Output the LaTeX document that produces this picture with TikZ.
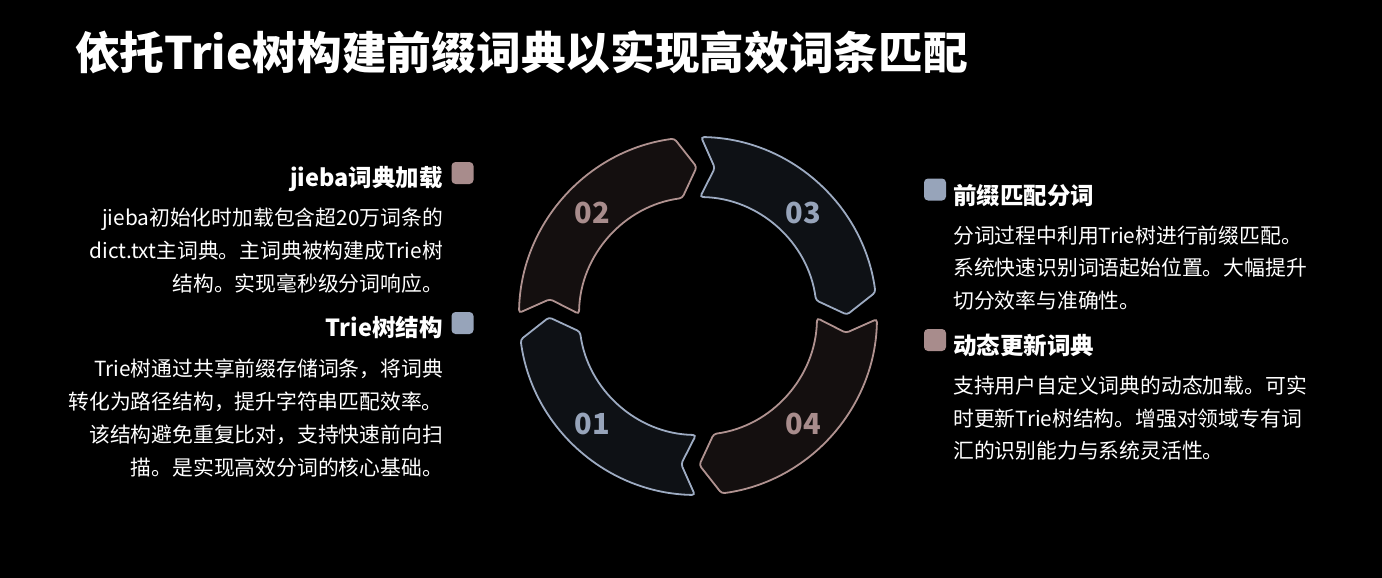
\documentclass[tikz,border=0pt]{standalone}
\usepackage{fontspec}
\setmainfont{Noto Sans CJK SC}
\definecolor{pinkS}{HTML}{B09290}
\definecolor{pinkF}{HTML}{140F0F}
\definecolor{blueS}{HTML}{9DABC2}
\definecolor{blueF}{HTML}{0E1115}
\definecolor{pinkSq}{HTML}{A88C8C}
\definecolor{blueSq}{HTML}{97A4BA}
\newcommand\segshape[3]{%
  \draw[segline, draw=#2, fill=#3]
    ({#1+89}:179) arc[start angle={#1+89}, end angle={#1+7.6}, radius=179]
    -- ({#1+0.5}:149)
    -- ({#1+7.6}:119) arc[start angle={#1+7.6}, end angle={#1+89}, radius=119]
    -- ({#1+83.5}:149) -- cycle;}
\begin{document}
\begin{tikzpicture}[x=1pt,y=-1pt,
  body/.style={text=white, inner sep=0pt, font=\fontsize{20.8}{25}\selectfont},
  headtxt/.style={text=white, inner sep=0pt, font=\fontsize{23.5}{28}\selectfont\bfseries},
  segline/.style={line width=1.8pt, rounded corners=3pt},
  num/.style={inner sep=0pt, font=\fontsize{29}{34}\selectfont\bfseries},
  sq/.style={minimum size=22pt, inner sep=0pt, rounded corners=4pt}]
\fill[black] (0,0) rectangle (1382,578);
\useasboundingbox (0,0) rectangle (1382,578);
% title
\node[anchor=base west, text=white, inner sep=0pt, font=\fontsize{44.7}{52}\selectfont\bfseries] (title) at (75,69.5) {依托Trie树构建前缀词典以实现高效词条匹配};
% ring
\begin{scope}[shift={(698,316)}, yscale=-1]
\segshape{180}{blueS}{blueF}
\segshape{90}{pinkS}{pinkF}
\segshape{0}{blueS}{blueF}
\segshape{270}{pinkS}{pinkF}
\end{scope}
\node[num, text=blueSq] (n01) at (592,424) {01};
\node[num, text=pinkSq] (n02) at (592,213) {02};
\node[num, text=blueSq] (n03) at (803,213) {03};
\node[num, text=pinkSq] (n04) at (803,424) {04};
% left legend
\node[sq, fill=pinkSq] (sq1) at (462.5,173) {};
\node[headtxt, anchor=base east] (h1) at (443,186) {jieba词典加载};
\node[body, anchor=base east] (b11) at (443,225.5) {jieba初始化时加载包含超20万词条的};
\node[body, anchor=base east] (b12) at (443,258.5) {dict.txt主词典。主词典被构建成Trie树};
\node[body, anchor=base east] (b13) at (443,291.5) {结构。实现毫秒级分词响应。};
\node[sq, fill=blueSq] (sq2) at (462.5,323) {};
\node[headtxt, anchor=base east] (h2) at (443,336) {Trie树结构};
\node[body, anchor=base east] (b21) at (443,376) {Trie树通过共享前缀存储词条，将词典};
\node[body, anchor=base east] (b22) at (443,409) {转化为路径结构，提升字符串匹配效率。};
\node[body, anchor=base east] (b23) at (443,442) {该结构避免重复比对，支持快速前向扫};
\node[body, anchor=base east] (b24) at (443,475) {描。是实现高效分词的核心基础。};
% right legend
\node[sq, fill=blueSq] (sq3) at (935,189.5) {};
\node[headtxt, anchor=base west] (h3) at (953,204) {前缀匹配分词};
\node[body, anchor=base west] (b31) at (953,243) {分词过程中利用Trie树进行前缀匹配。};
\node[body, anchor=base west] (b32) at (953,275.5) {系统快速识别词语起始位置。大幅提升};
\node[body, anchor=base west] (b33) at (953,308) {切分效率与准确性。};
\node[sq, fill=pinkSq] (sq4) at (935,340) {};
\node[headtxt, anchor=base west] (h4) at (953,354) {动态更新词典};
\node[body, anchor=base west] (b41) at (953,393) {支持用户自定义词典的动态加载。可实};
\node[body, anchor=base west] (b42) at (953,426) {时更新Trie树结构。增强对领域专有词};
\node[body, anchor=base west] (b43) at (953,458.5) {汇的识别能力与系统灵活性。};
\end{tikzpicture}
\end{document}
